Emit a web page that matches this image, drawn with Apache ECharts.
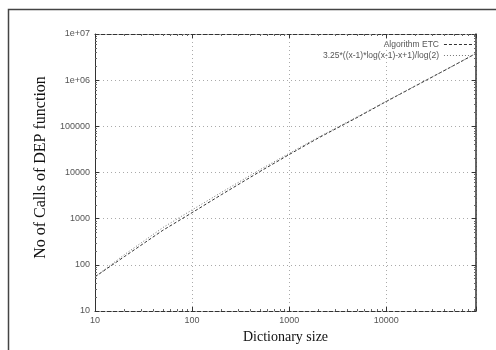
<!DOCTYPE html>
<html lang="en">
<head>
  <meta charset="UTF-8">
  <title>DEP calls</title>
  <style>
    html,body{margin:0;padding:0;background:#fff;}
    #main{width:496px;height:350px;}
  </style>
</head>
<body>
  <div id="main"></div>
  <script src="https://cdn.jsdelivr.net/npm/echarts@6/dist/echarts.min.js"></script>
  <script>
    // values
    const dictSize=[10,20,50,100,200,500,1000,2000,5000,10000,20000,50000,84000];
    const etcCalls=[55,150,560,1350,3300,10500,24500,56000,155000,345000,750000,2100000,3800000];
    const formulaCalls=[55,165,640,1550,3700,11500,26000,58000,160000,350000,760000,2100000,3800000];
    const xTickNames={10:'10',100:'100',1000:'1000',10000:'10000'};
    const yTickNames={10:'10',100:'100',1000:'1000',10000:'10000',100000:'100000',1000000:'1e+06',10000000:'1e+07'};
    const seriesNames=['Algorithm ETC','3.25*((x-1)*log(x-1)-x+1)/log(2)'];

    const chart=echarts.init(document.querySelector('#main'));
    const tickLbl={color:'#555',fontSize:9,fontFamily:'Liberation Sans'};
    const pair=arr=>dictSize.map((x,i)=>[x,arr[i]]);

    const option={
      animation:false,
      backgroundColor:'#fff',
      graphic:[{
        type:'rect',left:6,top:7,shape:{width:520,height:400},
        style:{fill:'none',stroke:'#444',lineWidth:1.5},silent:true
      }],
      grid:{left:95,top:34,right:20,bottom:39},
      legend:{
        orient:'vertical',left:318,top:35,align:'right',itemGap:2,
        itemWidth:30,itemHeight:8,
        itemStyle:{opacity:0},
        lineStyle:{width:1},
        textStyle:{fontSize:8.5,color:'#555',fontFamily:'Liberation Sans'},
        data:seriesNames
      },
      xAxis:[{
        type:'log',logBase:10,min:10,max:84000,
        name:'Dictionary size',nameLocation:'middle',nameGap:19,
        nameTextStyle:{fontFamily:'Liberation Serif',fontSize:14,color:'#111'},
        axisLine:{lineStyle:{color:'#333',type:'dashed',width:1}},
        axisTick:{inside:true,length:4,lineStyle:{color:'#333'}},
        minorTick:{show:true,splitNumber:9,length:2,lineStyle:{color:'#666'}},
        splitLine:{show:true,lineStyle:{color:'#aaa',type:[1,3]}},
        axisLabel:Object.assign({margin:5,showMaxLabel:false,formatter:v=>xTickNames[Math.round(v)]||''},tickLbl)
      },{
        type:'log',logBase:10,min:10,max:84000,position:'top',
        axisLine:{lineStyle:{color:'#333',type:'dashed',width:1}},
        axisTick:{inside:true,length:4,lineStyle:{color:'#333'}},
        minorTick:{show:true,splitNumber:9,length:2,lineStyle:{color:'#666'}},
        splitLine:{show:false},axisLabel:{show:false}
      }],
      yAxis:[{
        type:'log',logBase:10,min:10,max:10000000,
        name:'No of Calls of DEP function',nameLocation:'middle',nameGap:40,
        nameTextStyle:{fontFamily:'Liberation Serif',fontSize:16,color:'#111',padding:[0,0,0,10]},
        axisLine:{lineStyle:{color:'#333',width:1}},
        axisTick:{inside:true,length:4,lineStyle:{color:'#333'}},
        minorTick:{show:true,splitNumber:9,length:2,lineStyle:{color:'#666'}},
        splitLine:{show:true,lineStyle:{color:'#aaa',type:[1,3]}},
        axisLabel:Object.assign({margin:5,formatter:v=>yTickNames[Math.round(v)]||''},tickLbl)
      },{
        type:'log',logBase:10,min:10,max:10000000,position:'right',
        axisLine:{lineStyle:{color:'#333',width:1.5}},
        axisTick:{inside:true,length:4,lineStyle:{color:'#333'}},
        minorTick:{show:true,splitNumber:9,length:2,lineStyle:{color:'#666'}},
        splitLine:{show:false},axisLabel:{show:false}
      }],
      series:[{
        name:seriesNames[0],type:'line',symbol:'none',
        data:pair(etcCalls),
        itemStyle:{color:'#333'},
        lineStyle:{color:'#333',width:1,type:[3,2]}
      },{
        name:seriesNames[1],type:'line',symbol:'none',
        data:pair(formulaCalls),
        itemStyle:{color:'#777'},
        lineStyle:{color:'#777',width:1,type:[1,2]}
      }]
    };
    chart.setOption(option);
  </script>
</body>
</html>
